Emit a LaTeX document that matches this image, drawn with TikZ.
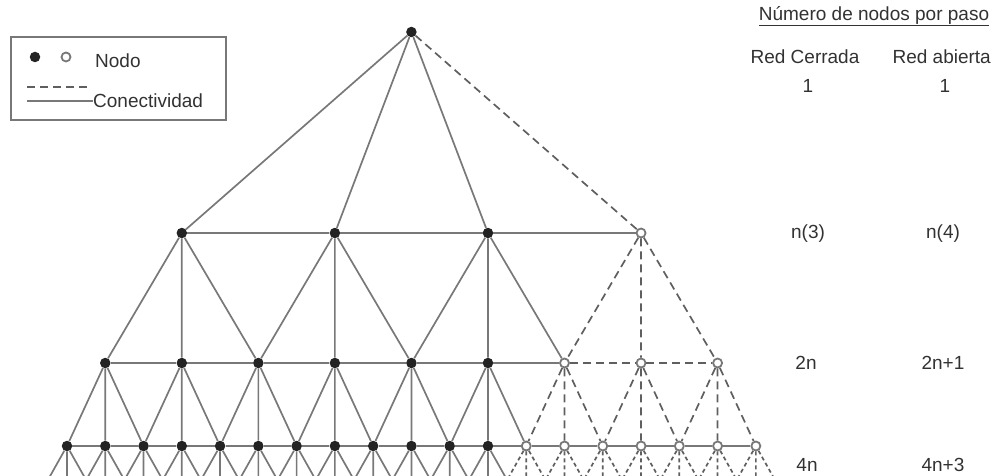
\documentclass[tikz,border=0pt]{standalone}
\usepackage{fontspec}
\setmainfont{Liberation Sans}
\usepackage{xcolor}
\definecolor{redgris}{RGB}{120,120,120}
\definecolor{redtrazo}{RGB}{95,95,95}
\definecolor{redoscuro}{RGB}{35,35,35}
\definecolor{textogris}{RGB}{50,50,50}

\begin{document}
\begin{tikzpicture}[
    x=1pt, y=-1pt,
    lleno/.style={circle, fill=redoscuro, inner sep=0pt, minimum size=10.5pt},
    abierto/.style={circle, draw=redgris, fill=white, line width=1.8pt, inner sep=0pt, minimum size=9pt},
    enlace/.style={draw=redgris, line width=1.7pt},
    discontinuo/.style={draw=redtrazo, line width=1.7pt, dash pattern=on 8pt off 5pt},
    etiqueta/.style={font=\fontsize{19}{22}\selectfont, text=textogris, inner sep=0pt}
]

\useasboundingbox (0,0) rectangle (993,476);
\clip (0,0) rectangle (993,476);

% Paso 0 (raiz)
\node[lleno] (t) at (411.4,32) {};

% Paso 1
\foreach \k in {1,2,3} {
    \node[lleno] (a\k) at ({67+38.27*(4*\k-1)},233) {};
}
\node[abierto] (a4) at ({67+38.27*15},233) {};

% Paso 2
\foreach \j in {1,...,6} {
    \node[lleno] (b\j) at ({67+38.27*(2*\j-1)},363) {};
}
\foreach \j in {7,8,9} {
    \node[abierto] (b\j) at ({67+38.27*(2*\j-1)},363) {};
}

% Paso 3
\foreach \i in {1,...,12} {
    \node[lleno] (c\i) at ({67+38.27*(\i-1)},446) {};
}
\foreach \i in {13,...,19} {
    \node[abierto] (c\i) at ({67+38.27*(\i-1)},446) {};
}

% Paso 4 (fuera del cuadro)
\foreach \m in {0,...,38} {
    \coordinate (d\m) at ({47.865+19.135*\m},480);
}

% Conectividad desde la raiz
\draw[enlace] (t) -- (a1) (t) -- (a2) (t) -- (a3);
\draw[discontinuo] (t) -- (a4);
\draw[enlace] (a1) -- (a2) -- (a3) -- (a4);

% Paso 1 -> paso 2
\foreach \k [evaluate=\k as \bi using int(2*\k-1), evaluate=\k as \bc using int(2*\k),
             evaluate=\k as \bd using int(2*\k+1)] in {1,2,3} {
    \draw[enlace] (a\k) -- (b\bi) (a\k) -- (b\bc) (a\k) -- (b\bd);
}
\draw[discontinuo] (a4) -- (b7) (a4) -- (b8) (a4) -- (b9);
\draw[enlace] (b1) -- (b2) -- (b3) -- (b4) -- (b5) -- (b6) -- (b7);
\draw[discontinuo] (b7) -- (b8) -- (b9);

% Paso 2 -> paso 3
\foreach \j [evaluate=\j as \ci using int(2*\j-1), evaluate=\j as \cc using int(2*\j),
             evaluate=\j as \cd using int(2*\j+1)] in {1,...,6} {
    \draw[enlace] (b\j) -- (c\ci) (b\j) -- (c\cc) (b\j) -- (c\cd);
}
\foreach \j [evaluate=\j as \ci using int(2*\j-1), evaluate=\j as \cc using int(2*\j),
             evaluate=\j as \cd using int(2*\j+1)] in {7,8,9} {
    \draw[discontinuo] (b\j) -- (c\ci) (b\j) -- (c\cc) (b\j) -- (c\cd);
}
\foreach \i [evaluate=\i as \ii using int(\i+1)] in {1,...,18} {
    \draw[enlace] (c\i) -- (c\ii);
}

% Paso 3 -> paso 4
\foreach \i [evaluate=\i as \di using int(2*\i-2), evaluate=\i as \dc using int(2*\i-1),
             evaluate=\i as \dd using int(2*\i)] in {1,...,12} {
    \draw[enlace] (c\i) -- (d\di) (c\i) -- (d\dc) (c\i) -- (d\dd);
}
\foreach \i [evaluate=\i as \di using int(2*\i-2), evaluate=\i as \dc using int(2*\i-1),
             evaluate=\i as \dd using int(2*\i)] in {13,...,19} {
    \draw[discontinuo, dash pattern=on 4pt off 3pt] (c\i) -- (d\di) (c\i) -- (d\dc) (c\i) -- (d\dd);
}

% Leyenda
\draw[enlace] (11,37) rectangle (226,120);
\node[lleno] (llavelleno) at (35,57) {};
\node[abierto] (llaveabierto) at (66,57) {};
\node[etiqueta, anchor=west] (nodo) at (95,61) {Nodo};
\coordinate (g1) at (27,87);
\coordinate (g2) at (88,87);
\coordinate (g3) at (27,101);
\node[etiqueta, anchor=west] (conec) at (93,101) {Conectividad};
\draw[discontinuo] (g1) -- (g2);
\draw[enlace] (g3) -- (conec.west);

% Numero de nodos por paso
\node[etiqueta] (titulo) at (874,16) {\underline{Número de nodos por paso}};
\node[etiqueta] (cerrada) at (805,57) {Red Cerrada};
\node[etiqueta, anchor=east] (abierta) at (991,57) {Red abierta};

\node[etiqueta] (cerr0) at (808,86) {1};
\node[etiqueta] (cerr1) at (808,234) {n(3)};
\node[etiqueta] (cerr2) at (806,363) {2n};
\node[etiqueta] (cerr3) at (807,465) {4n};

\node[etiqueta] (abi0) at (945,86) {1};
\node[etiqueta] (abi1) at (943,234) {n(4)};
\node[etiqueta] (abi2) at (943,363) {2n+1};
\node[etiqueta] (abi3) at (943,465) {4n+3};

\end{tikzpicture}
\end{document}
